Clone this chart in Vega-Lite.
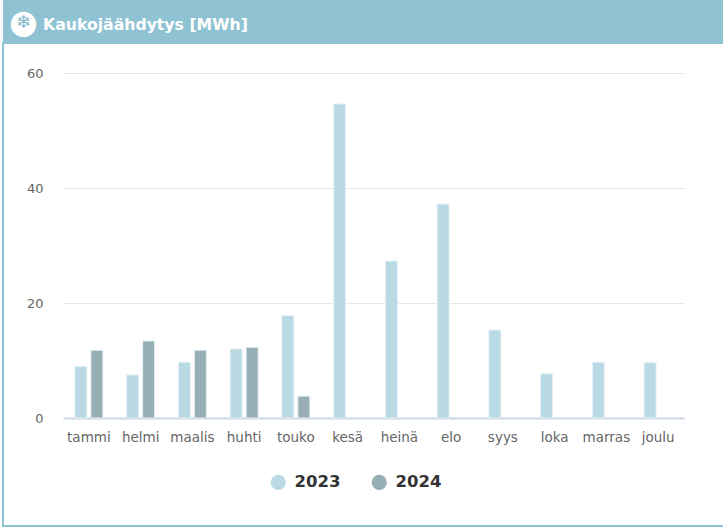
{"$schema":"https://vega.github.io/schema/vega-lite/v6.json","padding":{"left":2,"top":0,"right":0,"bottom":0},"background":"white","spacing":0,"config":{"concat":{"spacing":0}},"vconcat":[{"width":721,"height":42,"view":{"fill":"#8fc3d4","stroke":null},"data":{"values":[{"icon":"●","flake":"❄","label":"Kaukojäähdytys [MWh]"}]},"layer":[{"mark":{"type":"text","dx":-340,"dy":2,"fontSize":33,"color":"white","font":"DejaVu Sans","baseline":"middle"},"encoding":{"text":{"field":"icon"}}},{"mark":{"type":"text","dx":-340,"dy":2,"fontSize":18,"color":"#7fb6c9","font":"DejaVu Sans","baseline":"middle"},"encoding":{"text":{"field":"flake"}}},{"mark":{"type":"text","dx":-320.5,"dy":4,"align":"left","fontSize":15.7,"fontWeight":"bold","color":"white","font":"DejaVu Sans","baseline":"middle"},"encoding":{"text":{"field":"label"}}}]},{"width":721,"height":483,"view":{"stroke":"#8fc3d4","strokeWidth":2},"data":{"values":[{"month":"tammi","year":"2023","value":9.0},{"month":"tammi","year":"2024","value":11.8},{"month":"helmi","year":"2023","value":7.5},{"month":"helmi","year":"2024","value":13.4},{"month":"maalis","year":"2023","value":9.7},{"month":"maalis","year":"2024","value":11.8},{"month":"huhti","year":"2023","value":12.0},{"month":"huhti","year":"2024","value":12.3},{"month":"touko","year":"2023","value":17.8},{"month":"touko","year":"2024","value":3.8},{"month":"kesä","year":"2023","value":54.6},{"month":"heinä","year":"2023","value":27.3},{"month":"elo","year":"2023","value":37.2},{"month":"syys","year":"2023","value":15.3},{"month":"loka","year":"2023","value":7.7},{"month":"marras","year":"2023","value":9.7},{"month":"joulu","year":"2023","value":9.6}]},"mark":{"type":"bar","stroke":"#e6f0f4","strokeWidth":1},"encoding":{"x":{"field":"month","type":"nominal","sort":["tammi","helmi","maalis","huhti","touko","kesä","heinä","elo","syys","loka","marras","joulu"],"scale":{"range":[60,681],"paddingInner":0,"paddingOuter":0},"axis":{"title":null,"offset":-108,"labelAngle":0,"ticks":false,"domainColor":"#ccd6eb","domainWidth":2,"labelColor":"#666666","labelFont":"DejaVu Sans","labelFontSize":13.5,"labelPadding":12}},"xOffset":{"field":"year","type":"nominal","scale":{"paddingInner":0.25,"paddingOuter":0.742}},"y":{"field":"value","type":"quantitative","scale":{"domain":[0,60],"range":[375,30],"nice":false},"axis":{"title":null,"offset":-60,"values":[0,20,40,60],"domain":false,"ticks":false,"grid":true,"gridColor":"#e6e6e6","labelColor":"#666666","labelFont":"DejaVu Sans","labelFontSize":13,"labelPadding":20}},"color":{"field":"year","type":"nominal","scale":{"domain":["2023","2024"],"range":["#b9dae4","#98aeb5"]},"legend":{"title":null,"orient":"none","legendX":267,"legendY":474,"direction":"horizontal","symbolType":"circle","symbolSize":230,"symbolStrokeWidth":0,"labelFont":"DejaVu Sans","labelFontSize":16.5,"labelFontWeight":"bold","labelColor":"#333333","columnPadding":30,"labelOffset":8}}}}]}
